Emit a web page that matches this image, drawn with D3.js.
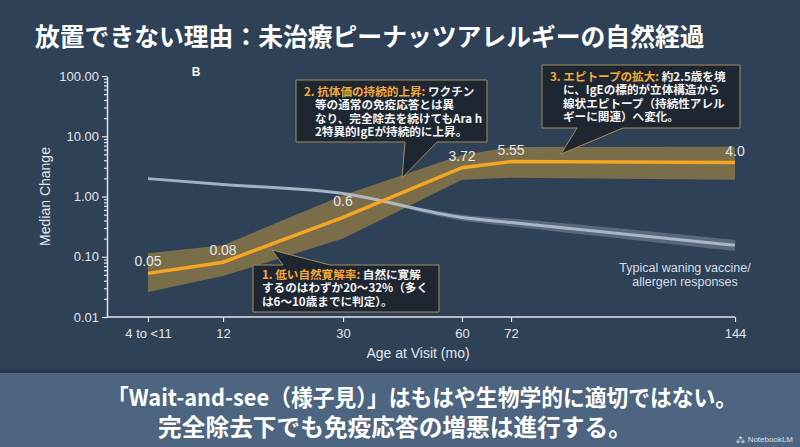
<!DOCTYPE html>
<html>
<head>
<meta charset="utf-8">
<script src="https://cdn.jsdelivr.net/npm/d3@7"></script>
<style>
  html, body { margin: 0; padding: 0; background: #2f4157; }
  svg { display: block; }
</style>
</head>
<body>
<svg id="chart" width="800" height="447"></svg>
<script>
// chart data
var ageLabels = ["4 to <11", "12", "30", "60", "72", "144"];
var ages = [7.5, 12, 30, 60, 72, 144];
var igeMedian = [0.053, 0.081, 0.45, 3.0, 3.8, 3.65];
var igeLow = [0.026, 0.048, 0.2, 1.9, 2.05, 1.9];
var igeHigh = [0.114, 0.155, 1.05, 4.9, 6.6, 6.7];
var valueLabels = ["0.05", "0.08", "0.6", "3.72", "5.55", "4.0"];
var waning = [1.98, 1.58, 1.12, 0.45, 0.37, 0.155];
var waningLow = [1.98, 1.58, 1.08, 0.4, 0.32, 0.125];
var waningHigh = [1.98, 1.58, 1.16, 0.5, 0.43, 0.19];
var yTicks = [0.01, 0.1, 1, 10, 100];

var svg = d3.select("#chart");
var JP = "'Noto Sans CJK JP', 'Noto Sans', sans-serif";
var SANS = "'Liberation Sans', Arial, sans-serif";

// background + bottom banner
svg.append("rect").attr("width", 800).attr("height", 447).attr("fill", "#2f4157");
svg.append("rect").attr("x", 0).attr("y", 370).attr("width", 800).attr("height", 4).attr("fill", "#27384c");
svg.append("rect").attr("x", 0).attr("y", 373).attr("width", 800).attr("height", 74).attr("fill", "#4d6580");

svg.append("text")
  .attr("x", 35).attr("y", 46)
  .attr("font-family", JP).attr("font-weight", "bold").attr("font-size", 24.8)
  .attr("fill", "#ffffff")
  .text("放置できない理由：未治療ピーナッツアレルギーの自然経過");

var x = d3.scaleLinear().domain(ages).range([148, 223, 343, 462, 511, 735]);
var y = d3.scaleLog().domain([0.01, 100]).range([317, 76]);
var x0 = 107;

// axes
var minor = [];
[0.01, 0.1, 1, 10].forEach(function (d) {
  for (var k = 2; k < 10; k++) minor.push(d * k);
});

var yMinor = svg.append("g").attr("transform", "translate(" + x0 + ",0)")
  .call(d3.axisLeft(y).tickValues(minor).tickSize(3).tickFormat(""));
yMinor.select(".domain").remove();

var yAxis = svg.append("g").attr("transform", "translate(" + x0 + ",0)")
  .call(d3.axisLeft(y).tickValues(yTicks).tickSize(5).tickSizeOuter(0).tickFormat(d3.format(".2f")));

var xAxis = svg.append("g").attr("transform", "translate(0," + y(0.01) + ")")
  .call(d3.axisBottom(x).tickValues(ages).tickSize(5).tickFormat(function (d, i) { return ageLabels[i]; }));
xAxis.select(".domain").remove();
svg.append("line")
  .attr("x1", x0).attr("x2", x(144)).attr("y1", y(0.01)).attr("y2", y(0.01))
  .attr("stroke", "#e2e6ec").attr("stroke-width", 1.5);

[yAxis, yMinor, xAxis].forEach(function (g) {
  g.selectAll("line").attr("stroke", "#e2e6ec").attr("stroke-width", 1.2);
  g.selectAll(".domain").attr("stroke", "#e2e6ec").attr("stroke-width", 1.5);
  g.selectAll("text").attr("fill", "#e2e6ec").attr("font-family", SANS).attr("font-size", 13);
});
yAxis.selectAll("text").attr("x", -8);
xAxis.selectAll("text").attr("y", 12);

svg.append("text")
  .attr("transform", "translate(50," + y(1) + ") rotate(-90)")
  .attr("text-anchor", "middle")
  .attr("font-family", SANS).attr("font-size", 14).attr("fill", "#e2e6ec")
  .text("Median Change");
svg.append("text")
  .attr("x", 418).attr("y", 358).attr("text-anchor", "middle")
  .attr("font-family", SANS).attr("font-size", 14).attr("fill", "#e2e6ec")
  .text("Age at Visit (mo)");
svg.append("text")
  .attr("x", 196).attr("y", 76).attr("text-anchor", "middle")
  .attr("font-family", SANS).attr("font-weight", "bold").attr("font-size", 12).attr("fill", "#f0f0f0")
  .text("B");

// IgE band first, then waning line across it, then the IgE median on top
var oArea = d3.area().x(function (d, i) { return x(ages[i]); })
  .y0(function (d, i) { return y(igeLow[i]); })
  .y1(function (d, i) { return y(igeHigh[i]); });
svg.append("path").datum(igeMedian).attr("d", oArea)
  .attr("fill", "#b8943f").attr("opacity", 0.55);

var gArea = d3.area().x(function (d, i) { return x(ages[i]); }).curve(d3.curveMonotoneX);
var gLine = d3.line().x(function (d, i) { return x(ages[i]); }).curve(d3.curveMonotoneX);

svg.append("path").datum(waning)
  .attr("d", gArea.y0(function (d, i) { return y(waningLow[i]); }).y1(function (d, i) { return y(waningHigh[i]); }))
  .attr("fill", "#b9c6d6").attr("opacity", 0.3);
svg.append("path").datum(waning)
  .attr("d", gLine.y(function (d) { return y(d); }))
  .attr("fill", "none").attr("stroke", "#b7c4d4").attr("stroke-width", 3).attr("opacity", 0.85);

svg.append("path").datum(igeMedian)
  .attr("d", d3.line().x(function (d, i) { return x(ages[i]); }).y(function (d) { return y(d); }))
  .attr("fill", "none").attr("stroke", "#f5a623").attr("stroke-width", 3.5);

svg.append("g").selectAll("text").data(valueLabels).join("text")
  .attr("x", function (d, i) { return x(ages[i]); })
  .attr("y", function (d, i) { return y(igeMedian[i]) - (i === 2 ? 11 : 7); })
  .attr("text-anchor", "middle")
  .attr("font-family", SANS).attr("font-size", 14).attr("fill", "#e6e6e6")
  .text(function (d) { return d; });

svg.append("text").attr("x", 685).attr("y", 272).attr("text-anchor", "middle")
  .attr("font-family", SANS).attr("font-size", 12.5).attr("fill", "#d8dee6")
  .text("Typical waning vaccine/");
svg.append("text").attr("x", 685).attr("y", 286).attr("text-anchor", "middle")
  .attr("font-family", SANS).attr("font-size", 12.5).attr("fill", "#d8dee6")
  .text("allergen responses");

// callouts
var notes = [
  { shape: "M253,265 L283,265 L272,250 L330,265 L439,265 L439,312 L253,312 Z",
    x: 262, indent: 262, y: 279,
    head: "1. 低い自然寛解率:", lines: [" 自然に寛解", "するのはわずか20～32%（多く", "は6～10歳までに判定）。"] },
  { shape: "M296,80 L487,80 L487,142 L437,142 L402,178 L405,142 L296,142 Z",
    x: 304, indent: 315, y: 96,
    head: "2. 抗体価の持続的上昇:", lines: [" ワクチン", "等の通常の免疫応答とは異", "なり、完全除去を続けてもAra h", "2特異的IgEが持続的に上昇。"] },
  { shape: "M542,65 L740,65 L740,128 L623,128 L561,154 L577,128 L542,128 Z",
    x: 550, indent: 563, y: 81,
    head: "3. エピトープの拡大:", lines: [" 約2.5歳を境", "に、IgEの標的が立体構造から", "線状エピトープ（持続性アレル", "ギーに関連）へ変化。"] }
];

notes.forEach(function (n) {
  svg.append("path").attr("d", n.shape)
    .attr("fill", "#1d2531").attr("fill-opacity", 0.96)
    .attr("stroke", "#a38d58").attr("stroke-width", 1);
  var g = svg.append("g")
    .attr("font-family", JP).attr("font-weight", "bold").attr("font-size", 11.6);
  var t = g.append("text").attr("x", n.x).attr("y", n.y);
  t.append("tspan").attr("fill", "#f2a93b").text(n.head);
  t.append("tspan").attr("fill", "#f4f4f4").text(n.lines[0]);
  n.lines.slice(1).forEach(function (l, i) {
    g.append("text").attr("x", n.indent).attr("y", n.y + 13.3 * (i + 1))
      .attr("fill", "#f4f4f4").text(l);
  });
});

// banner text
svg.append("text").attr("x", 422).attr("y", 406).attr("text-anchor", "middle")
  .attr("font-family", JP).attr("font-weight", "bold").attr("font-size", 23)
  .attr("textLength", 630).attr("lengthAdjust", "spacingAndGlyphs")
  .attr("fill", "#ffffff")
  .text("「Wait-and-see（様子見）」はもはや生物学的に適切ではない。");
svg.append("text").attr("x", 395).attr("y", 436).attr("text-anchor", "middle")
  .attr("font-family", JP).attr("font-weight", "bold").attr("font-size", 23.7)
  .attr("fill", "#ffffff")
  .text("完全除去下でも免疫応答の増悪は進行する。");
svg.append("text").attr("x", 793).attr("y", 442).attr("text-anchor", "end")
  .attr("font-family", SANS).attr("font-size", 8).attr("fill", "#dde3ea")
  .text("⁂ NotebookLM");
</script>
</body>
</html>
